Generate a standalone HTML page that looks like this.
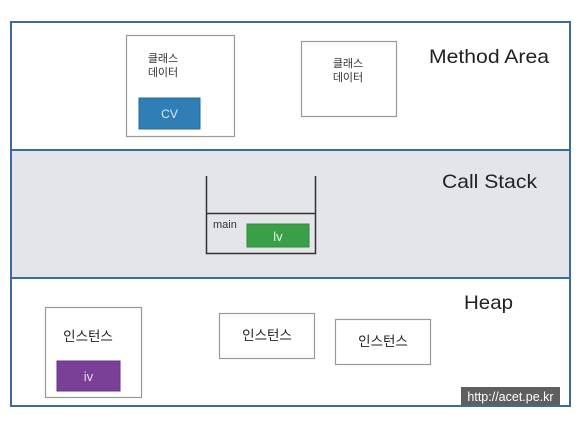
<!DOCTYPE html>
<html><head><meta charset="utf-8"><style>
html,body{margin:0;padding:0;background:#fff;}
svg{display:block;}
text{font-family:"Liberation Sans","Noto Sans CJK KR",sans-serif;}
</style></head><body>
<svg width="580" height="421" viewBox="0 0 580 421" xmlns="http://www.w3.org/2000/svg">
<rect x="0" y="0" width="580" height="421" fill="#fff"/>
<rect x="11" y="150" width="559" height="128" fill="#e3e5ea"/>
<rect x="11" y="22" width="559" height="384" fill="none" stroke="#3d6b9c" stroke-width="2"/>
<line x1="11" y1="150" x2="570" y2="150" stroke="#3d6b9c" stroke-width="2"/>
<line x1="11" y1="278" x2="570" y2="278" stroke="#3d6b9c" stroke-width="2"/>

<!-- Method Area -->
<rect x="126.5" y="35.5" width="108" height="101" fill="#fff" stroke="#999" stroke-width="1.2"/>
<text x="163" y="62" font-size="11" text-anchor="middle" fill="#333">클래스</text>
<text x="163" y="76" font-size="11" text-anchor="middle" fill="#333">데이터</text>
<rect x="139" y="98" width="61" height="31" fill="#2f7eb5" stroke="#276a99" stroke-width="1"/>
<text x="169.5" y="118" font-size="12" text-anchor="middle" fill="#dce8f3">CV</text>
<rect x="301.5" y="41.5" width="95" height="75" fill="#fff" stroke="#999" stroke-width="1.2"/>
<text x="348" y="67" font-size="11" text-anchor="middle" fill="#333">클래스</text>
<text x="348" y="81" font-size="11" text-anchor="middle" fill="#333">데이터</text>
<text x="429" y="63" font-size="19.5" fill="#222" textLength="120" lengthAdjust="spacingAndGlyphs">Method Area</text>

<!-- Call Stack -->
<path d="M206.5 176 V253.5 H315.5 V176" fill="none" stroke="#333" stroke-width="1.5"/>
<line x1="206" y1="213.5" x2="316" y2="213.5" stroke="#333" stroke-width="1.5"/>
<text x="213" y="228" font-size="11" fill="#333">main</text>
<rect x="247" y="224" width="62" height="23" fill="#3a9f47" stroke="#2f8a3b" stroke-width="1"/>
<text x="278" y="241" font-size="13" text-anchor="middle" fill="#e6f3e6">lv</text>
<text x="442" y="188" font-size="19.5" fill="#222" textLength="95" lengthAdjust="spacingAndGlyphs">Call Stack</text>

<!-- Heap -->
<rect x="45.5" y="307.5" width="96" height="90" fill="#fff" stroke="#999" stroke-width="1.2"/>
<text x="88" y="341" font-size="13.5" text-anchor="middle" fill="#222">인스턴스</text>
<rect x="57" y="361" width="63" height="30" fill="#7a3f99" stroke="#6a3486" stroke-width="1"/>
<text x="88.5" y="381" font-size="13" text-anchor="middle" fill="#e8dcef">iv</text>
<rect x="219.5" y="313.5" width="95" height="45" fill="#fff" stroke="#999" stroke-width="1.2"/>
<text x="267" y="340" font-size="13.5" text-anchor="middle" fill="#222">인스턴스</text>
<rect x="335.5" y="319.5" width="95" height="45" fill="#fff" stroke="#999" stroke-width="1.2"/>
<text x="383" y="346" font-size="13.5" text-anchor="middle" fill="#222">인스턴스</text>
<text x="464" y="309" font-size="19.5" fill="#222" textLength="49" lengthAdjust="spacingAndGlyphs">Heap</text>

<rect x="461" y="387" width="99" height="18" fill="#5f5f5f"/>
<text x="510.5" y="401" font-size="12.5" text-anchor="middle" fill="#fff">http://acet.pe.kr</text>
</svg>
</body></html>
